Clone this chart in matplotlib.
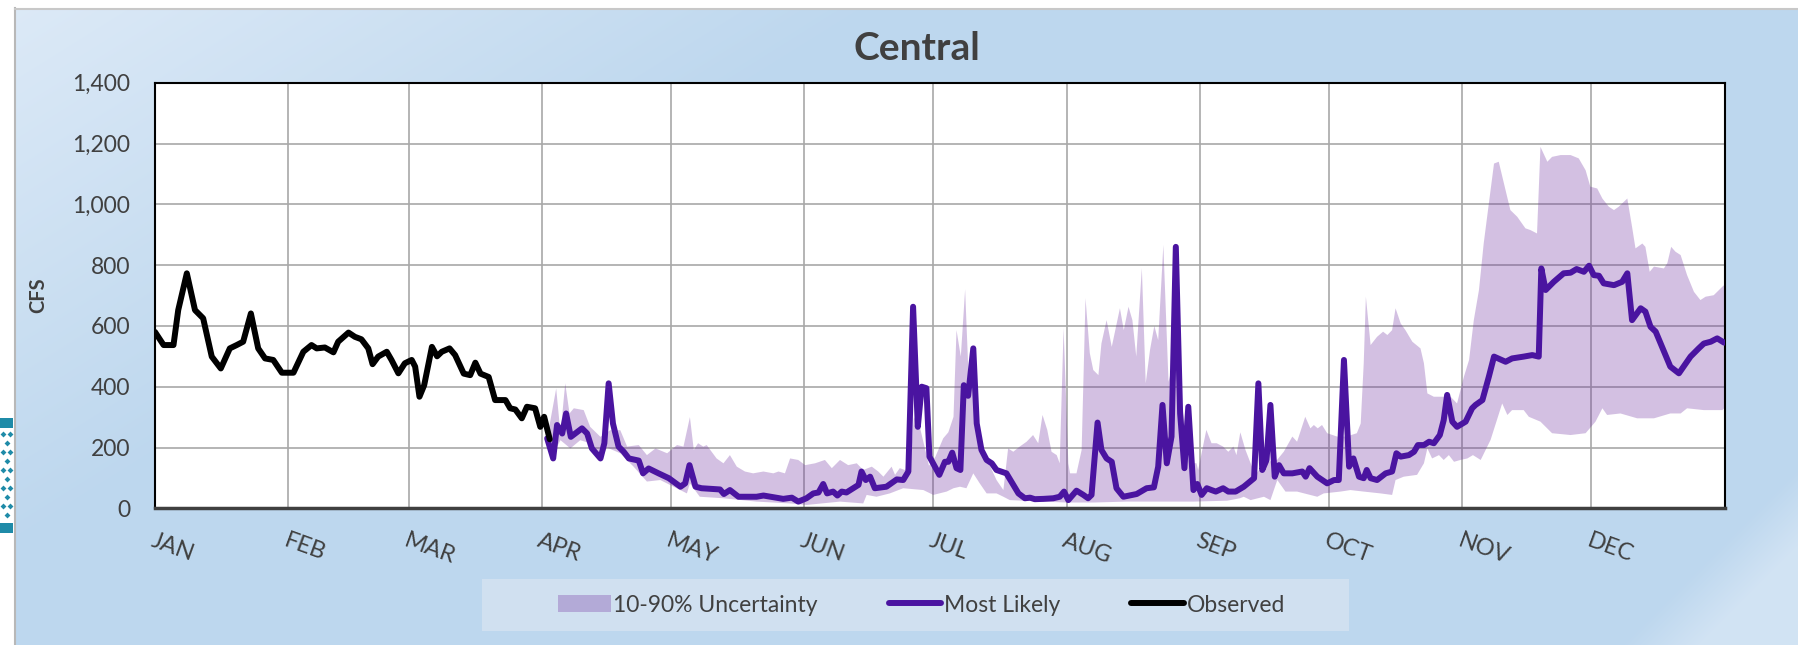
import numpy as np
import matplotlib
matplotlib.use("Agg")
import matplotlib.pyplot as plt
from matplotlib.patches import Rectangle, Patch
from matplotlib.lines import Line2D

plt.rcParams['font.family'] = ['Lato', 'DejaVu Sans']

# ---------------- data (day of year, CFS) ----------------
months = ["JAN", "FEB", "MAR", "APR", "MAY", "JUN", "JUL", "AUG", "SEP", "OCT", "NOV", "DEC"]
month_start = [0, 31, 59, 90, 120, 151, 181, 212, 243, 273, 304, 334]
y_ticks = [0, 200, 400, 600, 800, 1000, 1200, 1400]

obs_day = [0, 2, 4.3, 5.4, 7.4, 9.3, 11.2, 13.2, 15.3, 17.4, 19, 20.5, 22.3, 24, 25.6, 27.5,
           29.5, 32.2, 34.5, 36.4, 37.6, 39.5, 41.5, 42.6, 45, 46.5, 48, 49.6, 50.6, 51.9,
           53.9, 55, 56.6, 58.1, 59.7, 60.5, 61.5, 62.6, 64.4, 65.6, 66.7, 68.5, 69.8, 71.8,
           73.3, 74.5, 75.7, 77.6, 79.1, 81.5, 82.6, 83.8, 85.3, 86.5, 88.4, 89.6, 90.5, 91.8]
obs_val = [580, 537, 537, 652, 773, 652, 625, 499, 460, 526, 537, 548, 641, 526, 493, 488,
           446, 446, 515, 537, 526, 529, 513, 548, 578, 564, 556, 526, 474, 499,
           515, 488, 444, 477, 488, 466, 367, 405, 531, 500, 515, 526, 504, 443,
           438, 479, 443, 432, 356, 356, 329, 325, 296, 334, 329, 268, 301, 227]

ml_day = [91.2, 92.6, 93.5, 94.7, 95.6, 96.7, 99.3, 100.5, 101.6, 103.6, 104.5, 105.5, 106.5,
          107.8, 109, 110.2, 112.5, 113.5, 114.8, 117.1, 119.5, 122.2, 123.3, 124.3, 125.7,
          127.1, 131.4, 132.3, 133.7, 135.7, 139.9, 141.5, 146.1, 148.1, 149.6, 151.5, 153.1,
          154.3, 155.4, 156.3, 157.7, 158.7, 159.7, 160.8, 163.6, 164.3, 165.3, 166.3, 167.4,
          170.1, 172.5, 174, 175.2, 176.3, 177.4, 178.3, 179.4, 180.1, 182.4, 183.7, 184.5,
          185.4, 186.4, 187.3, 188.1, 189.1, 190.3, 191.1, 192.2, 193.4, 194.6, 195.7, 198,
          199.6, 200.8, 202.3, 203.5, 204.6, 206.6, 208.9, 210.4, 211.4, 212.4, 214.3, 215.9,
          217, 217.8, 219.2, 220.1, 221.3, 222.5, 223.6, 225.2, 228.3, 230.6, 232.3, 233.3,
          234.3, 235.3, 236.4, 237.4, 238.4, 239.4, 240.3, 241.5, 242.4, 243.4, 244.6, 245.7,
          246.7, 248.4, 249.6, 251.3, 253.2, 255.6, 256.6, 257.5, 258.5, 259.4, 260.4, 261.4,
          262.5, 264.5, 266.8, 267.6, 268.5, 270.3, 272.6, 274.2, 275.3, 276.5, 277.7, 278.7,
          280, 281.1, 281.8, 282.7, 284.2, 286.2, 287.7, 288.7, 289.7, 291.6, 292.8, 293.7,
          295.1, 296.3, 297.4, 298.8, 299.7, 300.5, 301.7, 302.8, 304.8, 306.3, 307.1, 308.7,
          310.2, 311.4, 314.1, 315.6, 318.3, 320.3, 321.8, 322.4, 323.4, 325.3, 327.6, 329.2,
          330.6, 332.3, 333.5, 334.6, 335.8, 336.9, 339.3, 341.2, 342.4, 343.5, 345.5, 346.6,
          347.8, 349, 352.4, 354.4, 357.1, 359, 360.2, 361.8, 363.3, 364.9]
ml_val = [230, 164, 274, 246, 312, 235, 263, 246, 197, 164, 214, 411, 279,
          203, 186, 164, 157, 115, 131, 115, 99, 71, 82, 142, 71,
          66, 62, 47, 60, 38, 38, 42, 31, 35, 22, 33, 49,
          52, 80, 49, 55, 42, 55, 52, 77, 121, 93, 104, 66,
          71, 95, 93, 121, 663, 268, 400, 395, 170, 110, 153, 153,
          183, 132, 126, 405, 370, 526, 279, 192, 159, 148, 126, 115,
          77, 49, 33, 35, 30, 31, 33, 38, 55, 27, 58, 44,
          33, 44, 282, 192, 164, 153, 66, 38, 47, 66, 69, 137,
          340, 148, 236, 860, 312, 132, 334, 60, 80, 44, 66, 60,
          55, 66, 55, 55, 71, 99, 411, 126, 159, 340, 104, 142,
          115, 115, 121, 104, 132, 104, 82, 93, 93, 488, 137, 164,
          104, 99, 126, 99, 93, 115, 121, 181, 170, 175, 186, 208,
          208, 219, 214, 241, 290, 373, 285, 268, 285, 329, 340, 356,
          433, 499, 482, 493, 499, 504, 499, 789, 718, 745, 773, 775,
          787, 778, 798, 767, 765, 740, 734, 745, 773, 619, 658, 647,
          597, 581, 466, 444, 499, 526, 542, 548, 559, 545]

hi_day = [91.2, 93.3, 94.3, 95.4, 96.4, 97.4, 99.7, 101.2, 103.6, 105.9, 108.2, 109.8, 112.5,
          114.4, 116.4, 119.1, 121.4, 122.9, 124.4, 125.3, 126.3, 127.5, 128.3, 130.6, 132.2,
          133.7, 135.3, 137.2, 139.1, 141.5, 143.8, 145, 146.5, 147.7, 149.6, 151.2, 153.5,
          155.8, 157.4, 159.3, 161.2, 163.2, 164.7, 166.7, 168.2, 169.4, 171.3, 172.1, 173.2,
          174.4, 175.6, 176.5, 178, 180, 181.5, 183.3, 184.5, 185.7, 186.4, 187.4, 188.4,
          189.3, 190.7, 191.8, 193.4, 195.7, 197.3, 198.4, 199.6, 201.1, 202.7, 204.2, 205.4,
          206.4, 207.5, 208.5, 209.7, 210.4, 211.3, 212.4, 212.8, 214.3, 215.5, 216.4, 217.4,
          218.2, 219.4, 220.1, 221.3, 222.5, 224.4, 225.3, 226.4, 227.3, 228.2, 229.5, 230.4,
          231.4, 232.4, 233.3, 234.5, 235.7, 237.2, 238.4, 240.5, 242.2, 242.6, 244.5, 245.7,
          246.9, 248.4, 249.6, 250.8, 251.5, 252.4, 253.6, 254.8, 255.9, 258, 261, 262.5,
          264.5, 265.6, 267.5, 268.7, 269.5, 270.4, 271.4, 272.6, 274.9, 277.1, 279.5, 280.4,
          281.1, 281.6, 282.7, 284.2, 285.6, 286.6, 287.7, 288.5, 289.7, 290.8, 292.4, 294.3,
          295.1, 295.9, 297.4, 299.7, 301.3, 302.8, 304.4, 305.6, 306.7, 307.9, 309, 310.2,
          311.4, 312.5, 313.7, 315.2, 316.8, 318.7, 319.9, 321.4, 322.2, 323.8, 324.9, 326.9,
          329.2, 331.1, 332.7, 333.8, 335.4, 336.6, 338.1, 339.3, 340.4, 342.4, 343.5, 344.3,
          345.9, 346.6, 347.6, 348.6, 350.9, 351.7, 352.6, 353.6, 354.8, 356.3, 357.9, 359.4,
          360.6, 362.5, 364.5, 365]
hi_val = [230, 394, 246, 411, 312, 329, 323, 268, 235, 257, 257, 203, 208,
          175, 197, 181, 208, 203, 300, 192, 214, 203, 208, 164, 148,
          175, 137, 121, 115, 121, 115, 121, 115, 164, 159, 142, 148,
          159, 132, 159, 142, 148, 126, 137, 121, 104, 137, 110, 132,
          126, 140, 300, 260, 140, 170, 230, 250, 301, 586, 499, 720,
          400, 540, 225, 164, 93, 60, 197, 186, 203, 219, 241, 214,
          307, 258, 186, 175, 148, 592, 148, 115, 115, 192, 691, 510,
          455, 438, 542, 619, 531, 658, 586, 663, 619, 499, 790, 411,
          521, 600, 553, 866, 416, 500, 400, 150, 148, 126, 258, 214,
          214, 203, 186, 203, 175, 250, 192, 148, 110, 150, 160, 186,
          236, 219, 301, 263, 274, 263, 274, 247, 236, 236, 247, 279,
          477, 696, 537, 564, 581, 570, 586, 658, 608, 586, 548, 526,
          477, 378, 367, 367, 367, 345, 433, 488, 619, 718, 871, 1003,
          1134, 1140, 1069, 981, 959, 921, 915, 904, 1189, 1140, 1156, 1162,
          1162, 1151, 1112, 1058, 1052, 1019, 992, 981, 992, 1019, 926, 855,
          871, 860, 778, 795, 789, 806, 860, 844, 833, 767, 712, 685,
          696, 701, 729, 735]

lo_day = [91.2, 92.7, 94.3, 96.6, 98.9, 101.2, 103.6, 105.1, 108.2, 111.3, 114.4, 117.5,
          120.6, 123.7, 124.4, 126.7, 132.2, 139.9, 147.7, 151.5, 159.3, 164.7, 165.5, 167.8,
          170.9, 174, 178.7, 181, 184.1, 185.7, 187.2, 188.7, 190.3, 191.8, 193.4, 195.7,
          197.3, 198.8, 206.6, 212, 218.2, 225.9, 233.7, 241.5, 249.3, 250.1, 252.3, 253.2,
          254.8, 257.9, 259.4, 261, 262.9, 265.6, 270.3, 271.8, 275.7, 278, 281.1, 285,
          287.7, 288.5, 290.4, 293.5, 295.1, 295.9, 297, 298.6, 299.7, 300.9, 302.1, 303.6,
          305.2, 306.5, 308.3, 310.6, 313.3, 314.5, 315.6, 318.3, 319.5, 322.2, 324.9, 329.2,
          332.7, 335, 336.6, 337.7, 340.8, 344.7, 348.6, 352.4, 354.8, 356.3, 360.2, 364.5, 365]
lo_val = [214, 181, 224, 197, 224, 214, 153, 200, 181, 137, 88, 93,
          71, 49, 82, 38, 33, 22, 16, 11, 22, 16, 44, 38,
          49, 66, 60, 44, 55, 66, 71, 66, 115, 82, 49, 49,
          38, 27, 22, 19, 19, 22, 22, 22, 25, 27, 33, 38,
          27, 38, 27, 93, 55, 55, 38, 49, 55, 60, 55, 49,
          44, 93, 104, 110, 148, 197, 164, 175, 159, 175, 153, 159,
          164, 175, 159, 225, 345, 307, 323, 323, 301, 285, 247, 241,
          247, 285, 329, 307, 312, 296, 296, 312, 312, 329, 323, 323, 330]

# ---------------- figure ----------------
W, H = 1798, 645
fig = plt.figure(figsize=(W / 100, H / 100), dpi=100)
fig.patch.set_facecolor('white')

# background panel gradient
bg = fig.add_axes([0, 0, 1, 1], zorder=-10)
xx, yy = np.meshgrid(np.arange(W), np.arange(H))
main = np.array([189, 215, 238]) / 255.0
light = np.array([221, 234, 247]) / 255.0
t1 = np.clip(1 - (xx + 1.6 * yy) / 900.0, 0, 1)
t2 = np.clip((xx + yy - 2265) / 80.0, 0, 1) * 0.65
t = np.maximum(t1, t2)[..., None]
img = main + (light - main) * t
img[(xx < 14) | (yy < 8)] = 1.0
bg.imshow(img, extent=[0, W, H, 0], aspect='auto', interpolation='bilinear')
bg.set_xlim(0, W)
bg.set_ylim(H, 0)
bg.axis('off')
bg.plot([14.5, 14.5], [8, H], color='#B8B8B8', lw=1.5)
bg.plot([14.5, W], [8.5, 8.5], color='#C8C8C8', lw=1.5)
# partial teal logo at the left edge
bg.add_patch(Rectangle((0, 418), 13, 10, facecolor='#1F8BA8', edgecolor='none'))
bg.add_patch(Rectangle((0, 523), 13, 10, facecolor='#1F8BA8', edgecolor='none'))
for i, yv in enumerate(np.arange(434, 520, 9)):
    xs = [3, 10] if i % 2 == 0 else [6.5]
    bg.scatter(xs, [yv] * len(xs), s=9, color='#1F8BA8', marker='D', linewidths=0)

# legend background box
fig.patches.append(Rectangle((482 / W, 14 / H), 867 / W, 52 / H, transform=fig.transFigure,
                             facecolor='#D0E0F0', edgecolor='none', zorder=0))

left, right = 155 / W, 1724.5 / W
bottom, top = (H - 508.3) / H, (H - 82.7) / H
ax = fig.add_axes([left, bottom, right - left, top - bottom])
ax.set_facecolor('white')

band_color = '#7030A0'
ml_color = '#4A14A0'
LW = 4.3

ax.fill(np.concatenate([hi_day, lo_day[::-1]]), np.concatenate([hi_val, lo_val[::-1]]),
        facecolor=band_color, alpha=0.3, edgecolor='none', zorder=2)
ax.plot(ml_day, ml_val, color=ml_color, lw=LW, solid_joinstyle='round',
        solid_capstyle='round', zorder=3)
ax.plot(obs_day, obs_val, color='black', lw=LW, solid_joinstyle='round',
        solid_capstyle='round', zorder=4)

ax.set_xlim(0, 365)
ax.set_ylim(0, 1400)
ax.set_xticks(month_start)
ax.set_xticklabels(months, rotation=-20, ha='left', va='top', rotation_mode='anchor',
                   fontsize=17, color='#404040')
ax.set_yticks(y_ticks)
ax.set_yticklabels([f"{v:,}" for v in y_ticks], fontsize=16.5, color='#404040')
ax.tick_params(axis='both', length=0)
ax.tick_params(axis='y', pad=18)
ax.tick_params(axis='x', pad=16)
ax.grid(True, color='#A8A8A8', lw=1.2, zorder=0)
ax.set_axisbelow(True)
for s in ['top', 'right', 'left']:
    ax.spines[s].set_color('black')
    ax.spines[s].set_linewidth(1.5)
ax.spines['bottom'].set_color('#404040')
ax.spines['bottom'].set_linewidth(2.5)

ax.set_ylabel('CFS', fontsize=14.5, fontweight='bold', color='#404040')
ax.yaxis.set_label_coords((48 - 155) / (1724.5 - 155), 0.5)

fig.text(917 / W, 1 - 48 / H, 'Central', ha='center', va='center', fontsize=28,
         fontweight='bold', color='#404040')

handles = [Patch(facecolor=band_color, alpha=0.3, edgecolor='none'),
           Line2D([], [], color=ml_color, lw=LW, solid_capstyle='round'),
           Line2D([], [], color='black', lw=LW, solid_capstyle='round')]
labels = ['10-90% Uncertainty', 'Most Likely', 'Observed']
leg = fig.legend(handles, labels, loc='center', ncol=3, mode='expand',
                 bbox_to_anchor=(558 / W, 14 / H, (1285 - 558) / W, 52 / H),
                 frameon=False, fontsize=16.5, handlelength=2.3, handletextpad=0.12,
                 borderaxespad=0, borderpad=0)
for txt in leg.get_texts():
    txt.set_color('#404040')

fig.savefig('out.png', dpi=100, facecolor=fig.get_facecolor())
